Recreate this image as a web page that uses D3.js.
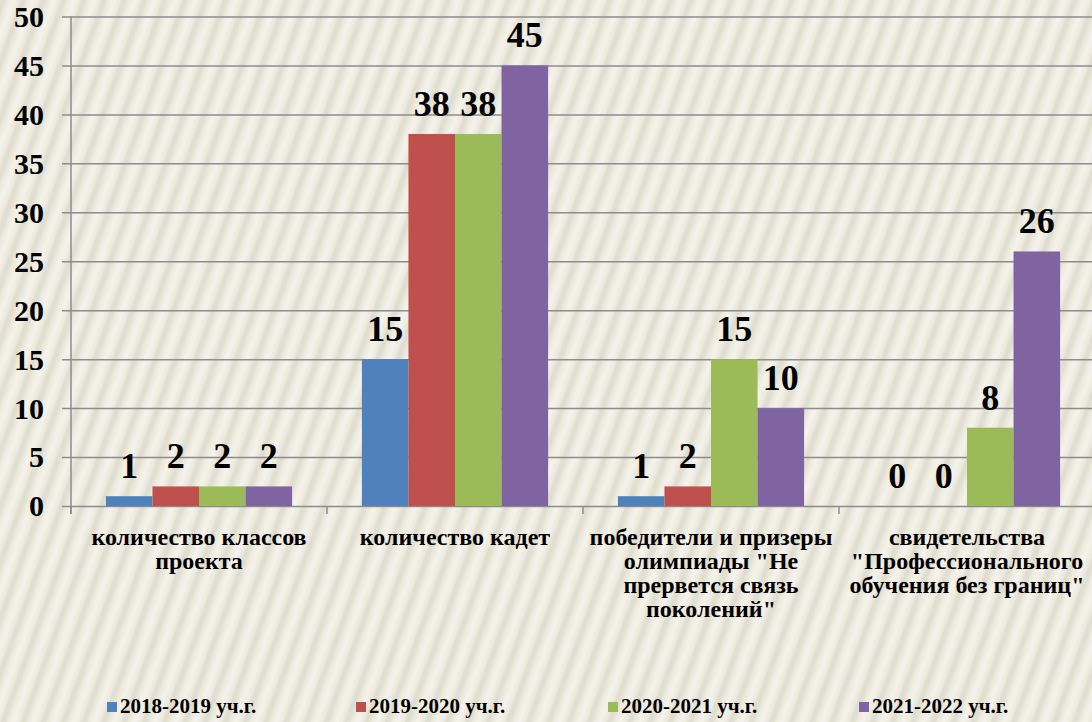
<!DOCTYPE html>
<html>
<head>
<meta charset="utf-8">
<script src="https://cdn.jsdelivr.net/npm/d3@7"></script>
<style>
  body { margin: 0; background: #edeadf; }
  svg { display: block; }
  text { font-family: "Liberation Serif", "Times New Roman", serif; font-weight: bold; fill: #000; }
</style>
</head>
<body>
<svg id="chart"></svg>
<script>
// [ --- data
var categories = [
  ["количество классов", "проекта"],
  ["количество кадет"],
  ["победители и призеры", "олимпиады \"Не", "прервется связь", "поколений\""],
  ["свидетельства", "\"Профессионального", "обучения без границ\""]
];
var seriesNames = ["2018-2019 уч.г.", "2019-2020 уч.г.", "2020-2021 уч.г.", "2021-2022 уч.г."];
var seriesColors = ["#4f81bd", "#c0504d", "#9bbb59", "#8064a2"];
var values2018 = [1, 15, 1, 0];
var values2019 = [2, 38, 2, 0];
var values2020 = [2, 38, 15, 8];
var values2021 = [2, 45, 10, 26];
var yTicks = [0, 5, 10, 15, 20, 25, 30, 35, 40, 45, 50];
// data ---]

var width = 1092;
var height = 722;
var plotLeft = 71, plotRight = 1095, plotTop = 16.5, plotBottom = 506;
var serif = "'Liberation Serif', 'Times New Roman', serif";

var allSeries = [values2018, values2019, values2020, values2021];

var svg = d3.select("#chart")
    .attr("width", width)
    .attr("height", height);

// striped background
var defs = svg.append("defs");
var pat = defs.append("pattern")
    .attr("id", "stripes")
    .attr("patternUnits", "userSpaceOnUse")
    .attr("width", 19)
    .attr("height", 40)
    .attr("patternTransform", "rotate(20)");
pat.append("rect").attr("width", 19).attr("height", 40).attr("fill", "#eeebe0");
pat.append("rect").attr("x", 0).attr("width", 5).attr("height", 40).attr("fill", "#e0ddd1");
pat.append("rect").attr("x", 5).attr("width", 2).attr("height", 40).attr("fill", "#e7e4d8");
pat.append("rect").attr("x", 10).attr("width", 5).attr("height", 40).attr("fill", "#f4f2ea");

defs.append("filter")
    .attr("id", "soft")
  .append("feGaussianBlur")
    .attr("stdDeviation", 1.2);

svg.append("rect")
    .attr("x", -10).attr("y", -10)
    .attr("width", width + 20)
    .attr("height", height + 20)
    .attr("fill", "url(#stripes)")
    .attr("filter", "url(#soft)");

var x0 = d3.scaleBand()
    .domain(d3.range(categories.length))
    .range([plotLeft, plotRight])
    .paddingInner(0)
    .paddingOuter(0);

var x1 = d3.scaleBand()
    .domain(d3.range(seriesNames.length))
    .range([0, x0.bandwidth()])
    .paddingOuter(0.75)
    .paddingInner(0);

var yScale = d3.scaleLinear()
    .domain([0, 50])
    .range([plotBottom, plotTop]);

// gridlines + y axis
var yAxis = d3.axisLeft(yScale)
    .tickValues(yTicks)
    .tickSize(-(plotRight - plotLeft))
    .tickSizeOuter(0);

var yG = svg.append("g")
    .attr("transform", "translate(" + plotLeft + ",0)")
    .call(yAxis);
yG.select(".domain").remove();
yG.selectAll(".tick line")
    .attr("x1", -9)
    .attr("stroke", "#8c8c8c")
    .attr("stroke-width", 1.5);
yG.selectAll(".tick text")
    .attr("x", -27)
    .attr("dy", "0.33em")
    .style("font-family", serif)
    .style("font-weight", "bold")
    .style("font-size", "30px")
    .attr("fill", "#000");

// vertical axis line
svg.append("line")
    .attr("x1", plotLeft).attr("x2", plotLeft)
    .attr("y1", plotTop).attr("y2", plotBottom + 8)
    .attr("stroke", "#8c8c8c")
    .attr("stroke-width", 1.5);

// category ticks
svg.selectAll(".cat-tick")
  .data(d3.range(categories.length + 1))
  .enter()
  .append("line")
    .attr("x1", d => plotLeft + d * x0.bandwidth())
    .attr("x2", d => plotLeft + d * x0.bandwidth())
    .attr("y1", plotBottom)
    .attr("y2", plotBottom + 8)
    .attr("stroke", "#8c8c8c")
    .attr("stroke-width", 1.5);

// bars
var groups = svg.selectAll(".group")
  .data(categories.map((c, i) => i))
  .enter()
  .append("g")
    .attr("transform", d => "translate(" + x0(d) + ",0)");

groups.selectAll("rect")
  .data(ci => allSeries.map((s, si) => ({ s: si, v: s[ci] })))
  .enter()
  .append("rect")
    .attr("x", d => x1(d.s))
    .attr("y", d => yScale(d.v))
    .attr("width", x1.bandwidth())
    .attr("height", d => plotBottom - yScale(d.v))
    .attr("fill", d => seriesColors[d.s]);

groups.selectAll(".val")
  .data(ci => allSeries.map((s, si) => ({ s: si, v: s[ci] })))
  .enter()
  .append("text")
    .attr("x", d => x1(d.s) + x1.bandwidth() / 2)
    .attr("y", d => yScale(d.v) - 18)
    .style("text-anchor", "middle")
    .style("font-size", "36px")
    .text(d => d.v);

// category labels
var catLabels = svg.selectAll(".cat")
  .data(categories)
  .enter()
  .append("text")
    .attr("x", (d, i) => x0(i) + x0.bandwidth() / 2)
    .attr("y", 545)
    .style("text-anchor", "middle")
    .style("font-size", "24px");

catLabels.selectAll("tspan")
  .data(d => d)
  .enter()
  .append("tspan")
    .attr("x", function(){ return d3.select(this.parentNode).attr("x"); })
    .attr("dy", (d, i) => i === 0 ? 0 : 24)
    .text(d => d);

// legend
var legendX = [107, 356, 608, 859];
var legend = svg.selectAll(".legend")
  .data(seriesNames)
  .enter()
  .append("g")
    .attr("transform", (d, i) => "translate(" + legendX[i] + ",702)");

legend.append("rect")
    .attr("width", 10)
    .attr("height", 10)
    .attr("fill", (d, i) => seriesColors[i]);

legend.append("text")
    .attr("x", 13)
    .attr("y", 11)
    .style("font-size", "21px")
    .text(d => d);
</script>
</body>
</html>
